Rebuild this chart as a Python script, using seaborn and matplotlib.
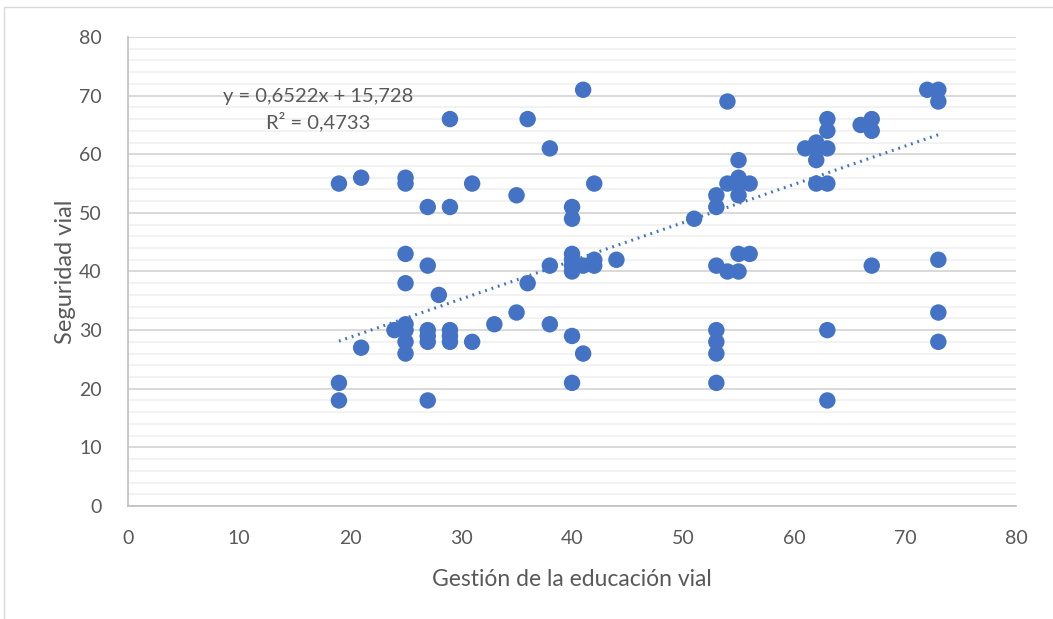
import numpy as np
import pandas as pd
import matplotlib.pyplot as plt
import seaborn as sns
from matplotlib.lines import Line2D
from matplotlib.ticker import MultipleLocator

# puntos (x = gestion, y = seguridad)
gestion = [19, 19, 19,
           21, 21,
           24,
           25, 25, 25, 25, 25, 25, 25, 25,
           27, 27, 27, 27, 27, 27,
           28,
           29, 29, 29, 29, 29,
           31, 31,
           33,
           35, 35,
           36, 36,
           38, 38, 38,
           40, 40, 40, 40, 40, 40, 40, 40,
           41, 41, 41,
           42, 42, 42,
           44,
           51,
           53, 53, 53, 53, 53, 53, 53,
           54, 54, 54,
           55, 55, 55, 55, 55, 55,
           56, 56,
           61,
           62, 62, 62, 62,
           63, 63, 63, 63, 63, 63,
           66,
           67, 67, 67,
           72,
           73, 73, 73, 73, 73]
seguridad = [55, 21, 18,
             56, 27,
             30,
             56, 55, 43, 38, 31, 30, 28, 26,
             51, 41, 30, 29, 28, 18,
             36,
             66, 51, 30, 29, 28,
             55, 28,
             31,
             53, 33,
             66, 38,
             61, 41, 31,
             51, 49, 43, 42, 41, 40, 29, 21,
             71, 41, 26,
             55, 42, 41,
             42,
             49,
             53, 51, 41, 30, 28, 26, 21,
             69, 55, 40,
             59, 56, 55, 53, 43, 40,
             55, 43,
             61,
             62, 61, 59, 55,
             66, 64, 61, 55, 30, 18,
             65,
             66, 64, 41,
             71,
             71, 69, 42, 33, 28]

# linea de tendencia de Excel
pendiente = 0.6522
intercepto = 15.728
r2 = 0.4733

df = pd.DataFrame({'gestion': gestion, 'seguridad': seguridad})

sns.set_style('white')
plt.rcParams['font.family'] = ['Lato', 'DejaVu Sans']
gris_txt = '#595959'
azul = '#4472C4'

fig = plt.figure(figsize=(10.53, 6.19), dpi=100)
ax = fig.add_axes([0.1216, 0.1826, 0.8433, 0.7576])

sns.scatterplot(data=df, x='gestion', y='seguridad', ax=ax, color=azul,
                s=140, edgecolor='none', zorder=3)

xs = np.array([df['gestion'].min(), df['gestion'].max()])
tend = pd.DataFrame({'x': xs, 'y': pendiente * xs + intercepto})
sns.lineplot(data=tend, x='x', y='y', ax=ax, color=azul, lw=2.2,
             linestyle=(0, (0.6, 1.6)), zorder=4)

ax.set_xlim(0, 80)
ax.set_ylim(0, 80)
ax.xaxis.set_major_locator(MultipleLocator(10))
ax.yaxis.set_major_locator(MultipleLocator(10))
ax.yaxis.set_minor_locator(MultipleLocator(2))
ax.grid(axis='y', which='major', color='#D9D9D9', lw=1.4, zorder=0)
ax.grid(axis='y', which='minor', color='#F2F2F2', lw=1.4, zorder=0)
ax.set_axisbelow(True)

for s in ['top', 'right']:
    ax.spines[s].set_visible(False)
for s in ['left', 'bottom']:
    ax.spines[s].set_color('#BFBFBF')
    ax.spines[s].set_linewidth(1.2)

ax.tick_params(axis='both', which='major', direction='out', length=5,
               color='#BFBFBF', width=1.2, labelsize=14, labelcolor=gris_txt)
ax.tick_params(axis='x', which='major', pad=12)
ax.tick_params(axis='y', which='major', pad=14)
ax.tick_params(axis='y', which='minor', length=0)

ax.set_xlabel('Gestión de la educación vial', fontsize=16.5, color=gris_txt, labelpad=16)
ax.set_ylabel('Seguridad vial', fontsize=17, color=gris_txt, labelpad=2)

eq = 'y = {:.4f}x + {:.3f}\nR² = {:.4f}'.format(pendiente, intercepto, r2).replace('.', ',')
ax.text(17.1, 67.6, eq, ha='center', va='center', fontsize=14.5, color=gris_txt,
        linespacing=1.45)

# borde del area del grafico
fig.add_artist(Line2D([0.004, 0.004], [0.0, 0.989], transform=fig.transFigure,
                      color='#D9D9D9', lw=1))
fig.add_artist(Line2D([0.004, 1.0], [0.989, 0.989], transform=fig.transFigure,
                      color='#D9D9D9', lw=1))

fig.savefig('out.png', dpi=100)
